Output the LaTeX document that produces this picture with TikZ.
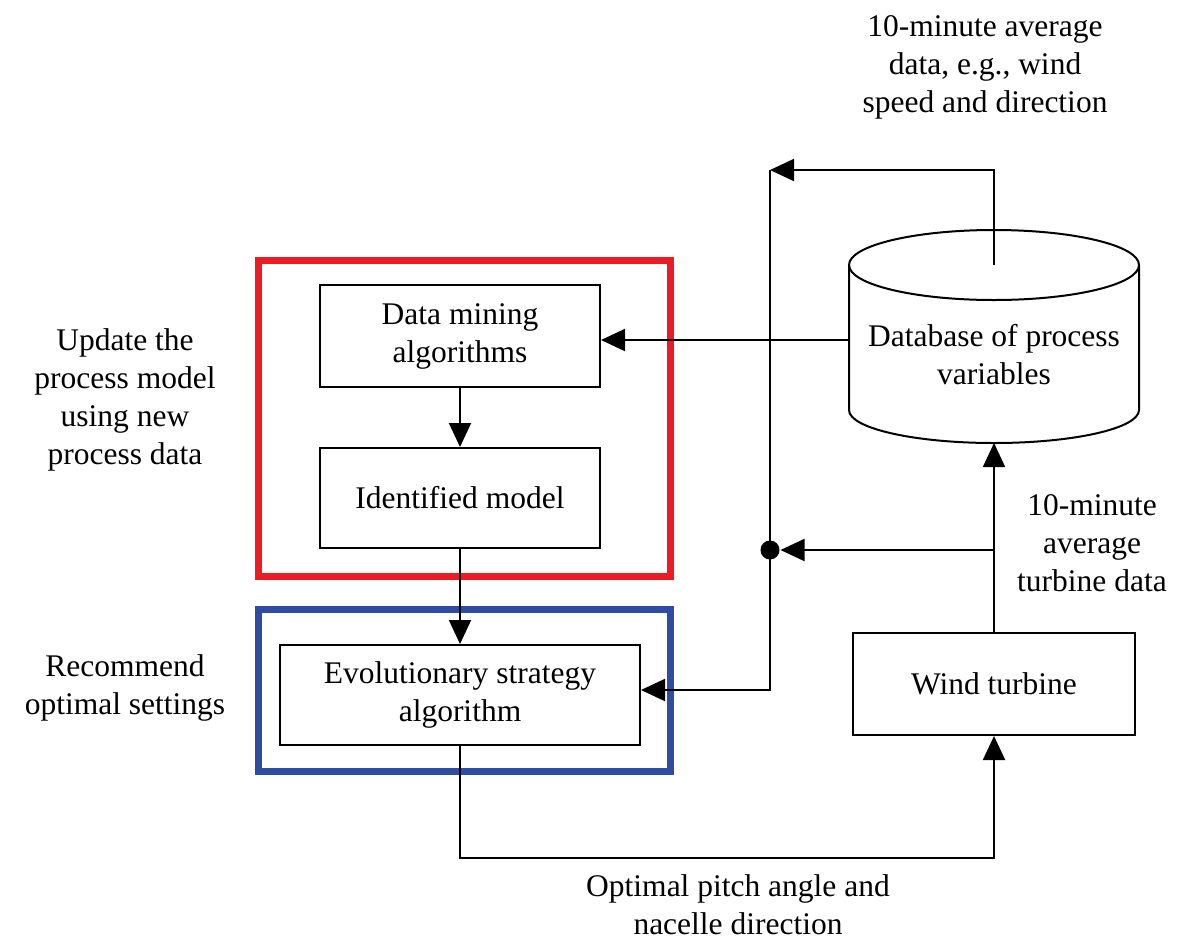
\documentclass[tikz,border=0pt]{standalone}
\usepackage{fontspec}
\setmainfont{Liberation Serif}
\usetikzlibrary{arrows.meta}
\definecolor{framered}{RGB}{237,28,36}
\definecolor{frameblue}{RGB}{46,76,160}
\begin{document}
\begin{tikzpicture}[x=1pt,y=-1pt,
  font=\fontsize{31.5}{38}\selectfont,
  line width=2pt,
  box/.style={draw, align=center, inner sep=0pt},
  lbl/.style={align=center, inner sep=0pt},
  arr/.style={-{Triangle[length=24pt,width=22pt]}},
  frame/.style={line width=7pt}]
\useasboundingbox (0,0) rectangle (1177,940);
% frames
\draw[frame, framered] (258,260) rectangle (670,576);
\draw[frame, frameblue] (258,609) rectangle (670,771);
% boxes
\node[box, minimum width=280pt, minimum height=102pt] (dm) at (460,336) {Data mining\\algorithms};
\node[box, minimum width=280pt, minimum height=100pt] (im) at (460,498) {Identified model};
\node[box, minimum width=360pt, minimum height=100pt] (es) at (460,695) {Evolutionary strategy\\algorithm};
\node[box, minimum width=282pt, minimum height=102pt] (wt) at (994,684) {Wind turbine};
% database cylinder
\draw (849,265) -- (849,410) arc[start angle=180, end angle=0, x radius=145, y radius=33] -- (1139,265);
\draw (994,265) ellipse[x radius=145, y radius=35];
\node[lbl] (db) at (994,355) {Database of process\\variables};
\coordinate (dbtop) at (994,265);
\coordinate (dbleft) at (849,340);
\coordinate (dbbot) at (994,443);
% connectors
\draw[arr] (dm.south) -- (im.north);
\draw[arr] (im.south) -- (es.north);
\draw[arr] (dbleft) -- (dm.east |- dbleft);
\coordinate (tl) at (770,170);
\coordinate (corner) at (770,690);
\draw[arr] (dbtop) |- (tl);
\draw[arr] (tl) -- (corner) -- (es.east |- corner);
\draw[arr] (wt.north) -- (dbbot);
\node[circle, fill, inner sep=0pt, minimum size=19pt] (dot) at (770,550) {};
\coordinate (br) at (994,550);
\draw[arr] (br) -- (dot);
\coordinate (bl) at (460,858);
\draw[arr] (es.south) -- (bl) -| (wt.south);
% labels
\node[lbl] (t1) at (985,67) {10-minute average\\data, e.g., wind\\speed and direction};
\node[lbl] (t2) at (125,400) {Update the\\process model\\using new\\process data};
\node[lbl] (t3) at (125,688) {Recommend\\optimal settings};
\node[lbl] (t4) at (1092,543) {10-minute\\average\\turbine data};
\node[lbl] (t5) at (738,905) {Optimal pitch angle and\\nacelle direction};
\end{tikzpicture}
\end{document}
